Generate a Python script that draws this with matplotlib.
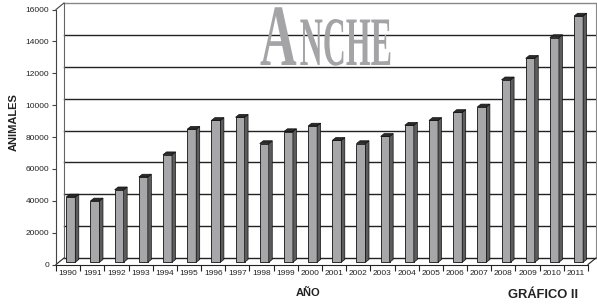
import matplotlib
matplotlib.use("Agg")
import matplotlib.pyplot as plt
from matplotlib.patches import Polygon
from matplotlib.patheffects import AbstractPathEffect
from matplotlib.transforms import Affine2D

years = ["1990", "1991", "1992", "1993", "1994", "1995", "1996", "1997", "1998", "1999", "2000",
         "2001", "2002", "2003", "2004", "2005", "2006", "2007", "2008", "2009", "2010", "2011"]
animales = [4100, 3850, 4550, 5350, 6750, 8350, 8900, 9100, 7450, 8200, 8550,
            7650, 7450, 7900, 8600, 8900, 9400, 9750, 11450, 12800, 14100, 15450]
ytick_vals = [0, 2000, 4000, 6000, 8000, 10000, 12000, 14000, 16000]
ytick_labels = ["0", "20000", "40000", "60000", "80000", "10000", "12000", "14000", "16000"]

W, H = 597, 304
fig = plt.figure(figsize=(W / 100, H / 100), dpi=100)
L, R, B, T = 56, 588, 264.5, 9.5
ax = fig.add_axes([L / W, (H - B) / H, (R - L) / W, (B - T) / H])
n = len(years)
ax.set_xlim(-0.5, n - 0.5)
ax.set_ylim(0, 16000)
ax.patch.set_visible(False)

ux = n / (R - L)          # data units per pixel (x)
uy = 16000 / (B - T)      # data units per pixel (y)

# back wall offsets
dxw, dyw = 8 * ux, 6.5 * uy
x0, x1 = -0.5, n - 0.5
for t in ytick_vals:
    col = '#888888' if t == 16000 else '#222222'
    ax.plot([x0 + dxw, x1 + dxw], [t + dyw, t + dyw], color=col, lw=1.0,
            clip_on=False, zorder=1)
ax.plot([x0 + dxw, x0 + dxw], [dyw, 16000 + dyw], color='#666666', lw=0.8, clip_on=False, zorder=1)
ax.plot([x1 + dxw, x1 + dxw], [dyw, 16000 + dyw], color='#888888', lw=0.8, clip_on=False, zorder=1)
ax.plot([x0, x0 + dxw], [16000, 16000 + dyw], color='#444444', lw=0.8, clip_on=False, zorder=1)
ax.plot([x0, x0 + dxw], [0, dyw], color='#222222', lw=0.8, clip_on=False, zorder=1)
ax.plot([x1, x1 + dxw], [0, dyw], color='#222222', lw=0.8, clip_on=False, zorder=1)

# bars (3D look)
w = 9 * ux
bx, by = 2.7 * ux, 2.2 * uy
ddx, ddy = 3.5 * ux, 2.8 * uy
xs = [i + bx for i in range(n)]
ax.bar(xs, animales, width=w, bottom=by, color='#a7a7a9', edgecolor='#111111',
       linewidth=0.6, zorder=3)
for xc, v in zip(xs, animales):
    xr = xc + w / 2
    xl = xc - w / 2
    top = v + by
    side = Polygon([(xr, by), (xr + ddx, by + ddy), (xr + ddx, top + ddy), (xr, top)],
                   closed=True, facecolor='#5c5c5c', edgecolor='#111111', lw=0.5, zorder=3)
    cap = Polygon([(xl, top), (xr, top), (xr + ddx, top + ddy), (xl + ddx, top + ddy)],
                  closed=True, facecolor='#2a2a2a', edgecolor='#111111', lw=0.5, zorder=3)
    ax.add_patch(side)
    ax.add_patch(cap)

# axes styling
for s in ['top', 'right']:
    ax.spines[s].set_visible(False)
ax.spines['left'].set_color('#444444')
ax.spines['bottom'].set_color('#222222')
ax.spines['left'].set_linewidth(0.8)
ax.spines['bottom'].set_linewidth(0.8)
ax.set_yticks(ytick_vals)
ax.set_yticklabels(ytick_labels, fontsize=6, family='Liberation Sans', color='#222222')
ax.set_xticks(range(n))
ax.set_xticklabels(years, fontsize=6, family='Liberation Sans', color='#222222')
ax.tick_params(axis='x', length=0, pad=4)
ax.tick_params(axis='y', length=3, width=0.8, pad=2, color='#444444')
ax.set_xticks([i + 0.5 for i in range(-1, n)], minor=True)
ax.tick_params(axis='x', which='minor', length=4, width=0.8, color='#222222')

# labels
fig.text(14 / W, 1 - 122 / H, "ANIMALES", rotation=90, ha='center', va='center',
         fontsize=8, fontweight='bold', family='Liberation Sans', color='#222222')
fig.text(308 / W, 1 - 296.5 / H, "AÑO", ha='center', va='baseline',
         fontsize=8, fontweight='bold', family='Liberation Sans', color='#222222')
fig.text(543 / W, 1 - 298.3 / H, "GRÁFICO II", ha='center', va='baseline',
         fontsize=9.3, fontweight='bold', family='Liberation Sans', color='#222222')


class Squash(AbstractPathEffect):
    """Horizontally compress glyph outlines about the left or right edge."""

    def __init__(self, sx, anchor='left'):
        super().__init__()
        self.sx = sx
        self.anchor = anchor

    def draw_path(self, renderer, gc, tpath, affine, rgbFace=None):
        ext = tpath.get_extents()
        ax_ = ext.x0 if self.anchor == 'left' else ext.x1
        ox, oy = affine.transform((ax_, 0))
        aff = affine + Affine2D().translate(-ox, -oy).scale(self.sx, 1).translate(ox, oy)
        renderer.draw_path(gc, tpath, aff, rgbFace)


wm_color = '#a4a4a6'
fig.text(297 / W, 1 - 65 / H, "A", ha='right', va='baseline', fontsize=63,
         family='Liberation Serif', fontweight='bold', color=wm_color,
         path_effects=[Squash(0.58, 'right')], zorder=2)
fig.text(299 / W, 1 - 65 / H, "NCHE", ha='left', va='baseline', fontsize=50,
         family='Liberation Serif', fontweight='bold', color=wm_color,
         path_effects=[Squash(0.46, 'left')], zorder=2)

fig.savefig("out.png", dpi=100)
